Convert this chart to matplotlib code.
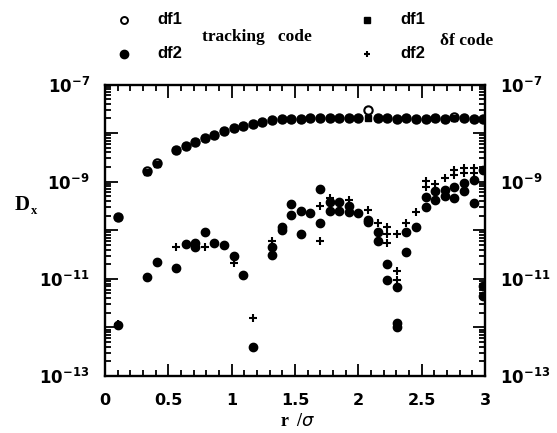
import matplotlib
matplotlib.use("Agg")
import matplotlib.pyplot as plt
from matplotlib.lines import Line2D
from matplotlib.ticker import MultipleLocator, LogLocator, FuncFormatter, NullFormatter
import numpy as np

# ---- data (r/sigma, log10 D_x) ----
df1_track_r = [0.105, 0.332, 0.408, 0.560, 0.636, 0.711, 0.787, 0.863, 0.939, 1.015,
               1.090, 1.166, 1.242, 1.318, 1.394, 1.469, 1.545, 1.621, 1.697, 1.773,
               1.848, 1.924, 2.000, 2.076, 2.152, 2.227, 2.303, 2.379, 2.455, 2.531,
               2.606, 2.682, 2.758, 2.834, 2.910, 2.985]
df1_track_log = [-9.73, -8.79, -8.62, -8.35, -8.26, -8.18, -8.10, -8.03, -7.96, -7.90,
                 -7.85, -7.81, -7.77, -7.73, -7.71, -7.70, -7.70, -7.69, -7.69, -7.68,
                 -7.68, -7.68, -7.68, -7.53, -7.69, -7.69, -7.70, -7.69, -7.70, -7.70,
                 -7.69, -7.70, -7.66, -7.69, -7.70, -7.70]

df1_df_r = df1_track_r
df1_df_log = [-9.73, -8.80, -8.63, -8.35, -8.26, -8.18, -8.10, -8.03, -7.96, -7.90,
              -7.85, -7.81, -7.77, -7.73, -7.71, -7.70, -7.70, -7.69, -7.69, -7.68,
              -7.68, -7.68, -7.68, -7.68, -7.69, -7.69, -7.70, -7.69, -7.70, -7.70,
              -7.69, -7.70, -7.69, -7.69, -7.70, -7.70]

df2_track_r = [0.105, 0.332, 0.408, 0.560, 0.636, 0.711, 0.711, 0.787, 0.863, 0.939,
               1.015, 1.090, 1.166, 1.318, 1.318, 1.394, 1.394, 1.469, 1.469, 1.545,
               1.545, 1.621, 1.697, 1.697, 1.773, 1.773, 1.848, 1.848, 1.924, 1.924,
               2.000, 2.076, 2.076, 2.152, 2.152, 2.227, 2.227, 2.303, 2.303, 2.303,
               2.379, 2.379, 2.455, 2.531, 2.531, 2.606, 2.606, 2.682, 2.682, 2.758,
               2.758, 2.834, 2.834, 2.910, 2.910, 2.985, 2.985, 2.985]
df2_track_log = [-11.96, -10.97, -10.65, -10.78, -10.28, -10.27, -10.35, -10.04, -10.26, -10.31,
                 -10.54, -10.93, -12.40, -10.34, -10.50, -9.93, -10.00, -9.46, -9.68, -9.60,
                 -10.07, -9.64, -9.15, -9.86, -9.42, -9.60, -9.42, -9.60, -9.50, -9.62,
                 -9.65, -9.78, -9.84, -10.04, -10.22, -10.70, -11.03, -11.16, -11.90, -12.00,
                 -10.03, -10.44, -9.93, -9.31, -9.53, -9.20, -9.38, -9.17, -9.30, -9.10,
                 -9.34, -9.03, -9.20, -8.97, -9.44, -8.75, -11.15, -11.35]

df2_df_r = [0.105, 0.408, 0.560, 0.787, 1.015, 1.166, 1.318, 1.697, 1.697, 1.773,
            1.924, 2.076, 2.152, 2.227, 2.227, 2.227, 2.303, 2.303, 2.303, 2.379,
            2.455, 2.531, 2.531, 2.606, 2.682, 2.758, 2.758, 2.834, 2.834, 2.910,
            2.910]
df2_df_log = [-11.92, -10.67, -10.34, -10.34, -10.67, -11.81, -10.22, -9.50, -10.23, -9.34,
              -9.38, -9.58, -9.86, -9.93, -10.07, -10.27, -10.08, -10.84, -11.02, -9.86,
              -9.62, -8.98, -9.10, -9.05, -8.93, -8.76, -8.86, -8.72, -8.83, -8.72,
              -8.83]

x_ticks = [0, 0.5, 1, 1.5, 2, 2.5, 3]
x_tick_labels = ["0", "0.5", "1", "1.5", "2", "2.5", "3"]
y_label_exps = [-7, -9, -11, -13]

W, H = 557, 433
fig = plt.figure(figsize=(W / 100, H / 100), dpi=100)
L, R, T, B = 105, 485, 84.5, 376
ax = fig.add_axes([L / W, 1 - B / H, (R - L) / W, (B - T) / H])

ms_c = 6.0
ax.plot(df1_track_r, 10 ** np.array(df1_track_log), 'o', ms=ms_c, mfc='white',
        mec='black', mew=1.5, ls='none', zorder=3)
ax.plot(df1_df_r, 10 ** np.array(df1_df_log), 's', ms=5.0, color='black', ls='none', zorder=4)
ax.plot(df2_track_r, 10 ** np.array(df2_track_log), 'o', ms=ms_c, color='black', ls='none', zorder=3)
ax.plot(df2_df_r, 10 ** np.array(df2_df_log), '+', ms=6.0, mew=1.5, color='black', ls='none', zorder=4)

ax.set_xlim(0, 3)
ax.set_yscale('log')
ax.set_ylim(1e-13, 1e-7)

ax.set_xticks(x_ticks)
ax.set_xticklabels(x_tick_labels)
ax.xaxis.set_minor_locator(MultipleLocator(0.1))
ax.yaxis.set_major_locator(LogLocator(base=10, numticks=20))
ax.yaxis.set_minor_locator(LogLocator(base=10, subs=np.arange(2, 10), numticks=20))
ax.yaxis.set_minor_formatter(NullFormatter())


def yfmt(v, pos):
    e = int(round(np.log10(v)))
    if e in y_label_exps:
        return r'$\mathbf{10^{%d}}$' % e
    return ''


ax.yaxis.set_major_formatter(FuncFormatter(yfmt))

for sp in ax.spines.values():
    sp.set_linewidth(1.7)

ax.tick_params(which='both', direction='in', top=True, right=True,
               labelright=True, width=1.3)
ax.tick_params(which='major', length=9)
ax.tick_params(which='minor', length=4)
ax.tick_params(axis='x', which='major', pad=12, labelsize=11.5)
ax.tick_params(axis='y', which='major', pad=11, labelsize=12)
for lab in ax.get_xticklabels():
    lab.set_fontweight('bold')

# axis labels
fig.text(298 / W, 1 - 421 / H, r'r  /$\sigma$', ha='center', va='center',
         fontsize=13, fontweight='bold', family='Liberation Serif')
fig.text(30 / W, 1 - 205 / H, 'D', ha='right', va='center',
         fontsize=15, fontweight='bold', family='Liberation Serif')
fig.text(31 / W, 1 - 211 / H, 'x', ha='left', va='center',
         fontsize=9, fontweight='bold', family='Liberation Serif')

# legend
def fig_marker(xp, yp, **kw):
    fig.add_artist(Line2D([xp / W], [1 - yp / H], transform=fig.transFigure, ls='none', **kw))

fig_marker(124, 19.5, marker='o', ms=5.0, mfc='white', mec='black', mew=1.4)
fig_marker(124, 53.5, marker='o', ms=6.0, color='black')
fig_marker(366.7, 19.5, marker='s', ms=5.0, color='black')
fig_marker(366.7, 53.5, marker='+', ms=5, mew=1.5, color='black')

txt = dict(fontsize=12, fontweight='bold', va='center', ha='left', family='Liberation Sans')
fig.text(157 / W, 1 - 19.5 / H, 'df1', **txt)
fig.text(157 / W, 1 - 53.5 / H, 'df2', **txt)
fig.text(400 / W, 1 - 19.5 / H, 'df1', **txt)
fig.text(400 / W, 1 - 53.5 / H, 'df2', **txt)
fig.text(202 / W, 1 - 37 / H, 'tracking   code', fontsize=12.5, fontweight='bold',
         va='center', ha='left', family='Liberation Serif')
fig.text(440 / W, 1 - 41 / H, 'δf code', fontsize=12.5, fontweight='bold',
         va='center', ha='left', family='Liberation Serif')

fig.savefig('out.png', dpi=100)
